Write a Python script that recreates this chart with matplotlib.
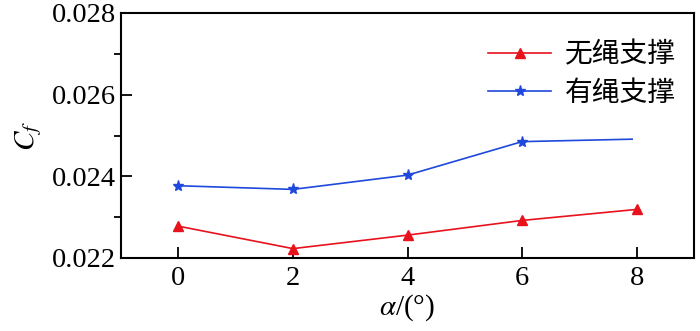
import matplotlib
matplotlib.use("Agg")
import matplotlib.pyplot as plt
from matplotlib.ticker import MultipleLocator

# angle of attack (deg)
alpha = [0, 2, 4, 6, 8]
cf_no_rope = [0.02278, 0.02223, 0.02256, 0.02292, 0.02319]
alpha_rope = [0, 2, 4, 6, 7.92]
cf_rope = [0.02377, 0.02368, 0.02403, 0.02485, 0.02491]
labels = ["无绳支撑", "有绳支撑"]

plt.rcParams['font.family'] = ['Liberation Serif', 'Noto Sans CJK SC']
plt.rcParams['mathtext.fontset'] = 'stix'

fig = plt.figure(figsize=(7, 3.31), dpi=100)
ax = fig.add_axes([121 / 700, 1 - 258 / 331, (694 - 121) / 700, (258 - 13) / 331])

ax.plot(alpha, cf_no_rope, '-^', color='#e8121c', lw=1.2, ms=7, label=labels[0])
ax.plot(alpha_rope, cf_rope, '-*', color='#1f48dc', lw=1.2, ms=8,
        markevery=[0, 1, 2, 3], label=labels[1])

ax.set_xlim(-1, 9)
ax.set_ylim(0.022, 0.028)
ax.xaxis.set_major_locator(MultipleLocator(2))
ax.yaxis.set_major_locator(MultipleLocator(0.002))
ax.yaxis.set_minor_locator(MultipleLocator(0.001))
ax.tick_params(direction='in', labelsize=20.5, width=1.3)
ax.tick_params(which='major', length=8)
ax.tick_params(which='minor', length=5, width=1.3)
ax.tick_params(axis='x', pad=6)
for s in ax.spines.values():
    s.set_linewidth(1.5)

ax.set_xlabel(r'$\alpha$/(°)', fontsize=21, labelpad=1)
ax.set_ylabel(r'$C_f$', fontsize=21, labelpad=6)

leg = ax.legend(loc='upper right', frameon=False, prop={'family': 'Noto Sans CJK SC', 'size': 20},
                handlelength=2.25, handletextpad=0.5, labelspacing=0.3,
                bbox_to_anchor=(1.012, 0.995))

fig.savefig('out.png', dpi=100)
